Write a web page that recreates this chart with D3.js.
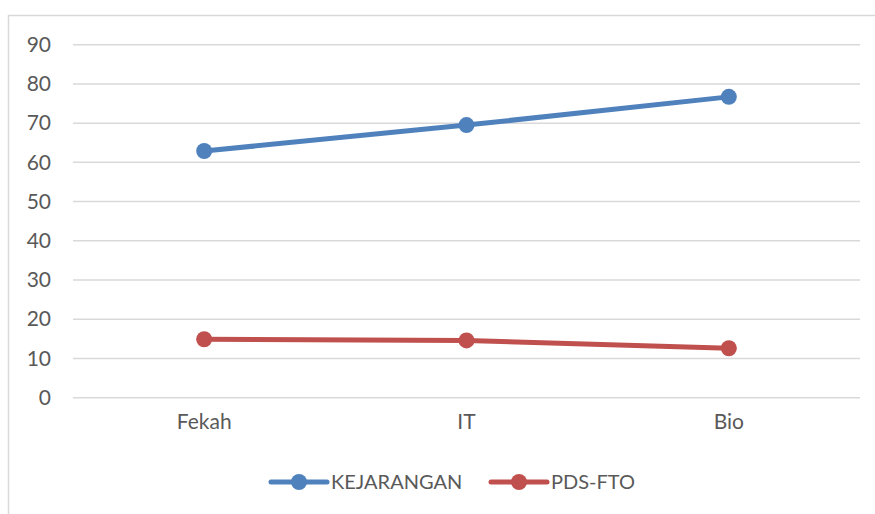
<!DOCTYPE html>
<html>
<head>
<meta charset="utf-8">
<script src="https://cdn.jsdelivr.net/npm/d3@7"></script>
<style>
  body { margin: 0; background: #fff; }
  text { font-family: Lato, "Open Sans", sans-serif; fill: #595959; }
</style>
</head>
<body>
<script>
    const Width = 875;
    const Height = 514;

    // data
    const categories = ["Fekah", "IT", "Bio"];
    const kejarangan = [62.9, 69.5, 76.7];
    const pdsFto = [14.9, 14.6, 12.6];
    const yTicks = [0, 10, 20, 30, 40, 50, 60, 70, 80, 90];
    const seriesNames = ["KEJARANGAN", "PDS-FTO"];
    const colors = ["#4f81bd", "#c0504d"];

    const svg = d3.select("body")
     .append("svg")
     .attr("width", Width)
     .attr("height", Height);

    // frame of the chart
    svg.append("rect")
     .attr("x", 8.5).attr("y", 15.5)
     .attr("width", 880).attr("height", 520)
     .attr("fill", "none")
     .attr("stroke", "#d9d9d9")
     .attr("stroke-width", 1.5);

    const x = d3.scaleBand()
     .domain(categories)
     .range([73, 860]);

    const y = d3.scaleLinear()
     .domain([0, 90])
     .range([397.7, 44.7]);

    // gridlines
    svg.selectAll("line.grid")
     .data(yTicks)
     .enter()
     .append("line")
     .attr("class", "grid")
     .attr("x1", 73).attr("x2", 860)
     .attr("y1", d => y(d)).attr("y2", d => y(d))
     .attr("stroke", "#d9d9d9")
     .attr("stroke-width", 1.5);

    // y axis labels
    const yAxis = d3.axisLeft(y).tickValues(yTicks).tickSize(0).tickPadding(0);
    svg.append("g")
     .attr("transform", "translate(51,0)")
     .call(yAxis)
     .call(g => g.select(".domain").remove())
     .selectAll("text")
     .attr("font-size", 21)
     .attr("font-family", "Lato, sans-serif")
     .attr("fill", "#595959");

    // x axis labels
    const xAxis = d3.axisBottom(x).tickSize(0).tickPadding(0);
    svg.append("g")
     .attr("transform", "translate(0,414)")
     .call(xAxis)
     .call(g => g.select(".domain").remove())
     .selectAll("text")
     .attr("font-size", 21)
     .attr("font-family", "Lato, sans-serif")
     .attr("fill", "#595959");

    const allSeries = [kejarangan, pdsFto];
    const line = d3.line()
     .x((d, i) => x(categories[i]) + x.bandwidth() / 2)
     .y(d => y(d));

    allSeries.forEach(function (vals, s) {
        svg.append("path")
         .datum(vals)
         .attr("d", line)
         .attr("fill", "none")
         .attr("stroke", colors[s])
         .attr("stroke-width", 5)
         .attr("stroke-linecap", "round");

        svg.selectAll("circle.s" + s)
         .data(vals)
         .enter()
         .append("circle")
         .attr("class", "s" + s)
         .attr("cx", (d, i) => x(categories[i]) + x.bandwidth() / 2)
         .attr("cy", d => y(d))
         .attr("r", 8)
         .attr("fill", colors[s]);
    });

    // legend
    const legendX = [271, 491];
    const legend = svg.selectAll("g.legend")
     .data(seriesNames)
     .enter()
     .append("g")
     .attr("class", "legend")
     .attr("transform", (d, i) => "translate(" + legendX[i] + ",482)");

    legend.append("line")
     .attr("x1", 0).attr("x2", 56)
     .attr("stroke", (d, i) => colors[i])
     .attr("stroke-width", 5)
     .attr("stroke-linecap", "round");

    legend.append("circle")
     .attr("cx", 28)
     .attr("r", 8)
     .attr("fill", (d, i) => colors[i]);

    legend.append("text")
     .attr("x", 60)
     .attr("dy", "0.35em")
     .attr("font-size", 20)
     .text(d => d);
</script>
</body>
</html>
